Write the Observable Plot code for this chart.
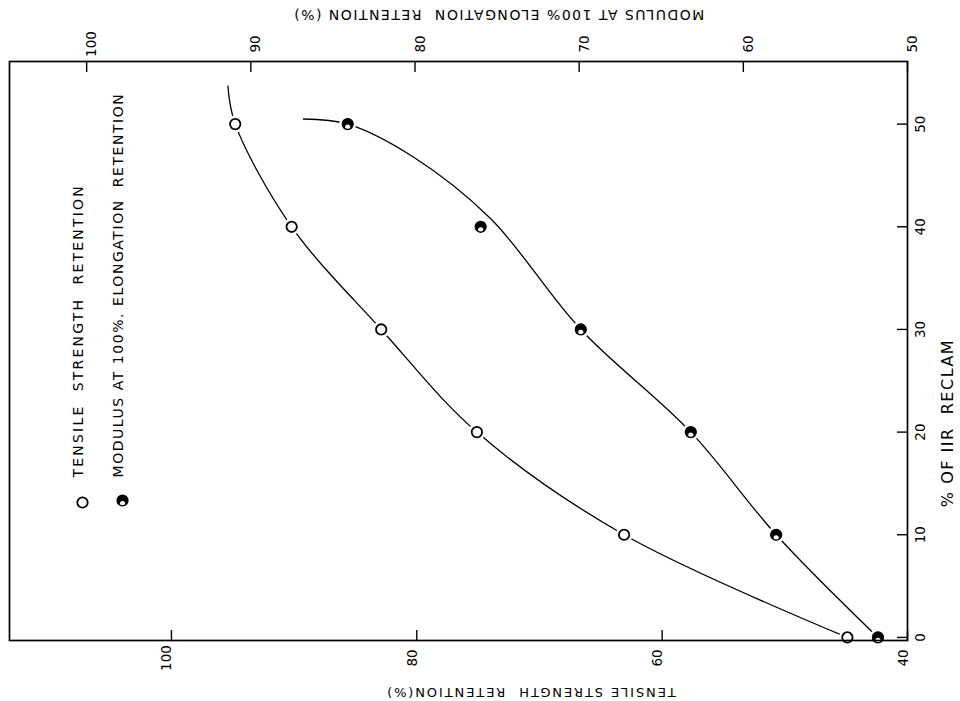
<!DOCTYPE html>
<html>
<head>
<meta charset="utf-8">
<script src="https://cdn.jsdelivr.net/npm/d3@7"></script>
<script src="https://cdn.jsdelivr.net/npm/@observablehq/plot@0.6"></script>
<style>
  html, body { margin: 0; padding: 0; background: #fff; }
  svg { display: block; }
</style>
</head>
<body>
<div id="chart"></div>
<script>
// ---- data ----
const iirLevels = [0, 10, 20, 30, 40, 50];                       // % of IIR reclaim
const tensileRetention = [44.9, 63.1, 75.1, 82.9, 90.2, 94.8];   // tensile strength retention (%)
const modulusRetention = [51.8, 58.0, 63.2, 69.9, 76.0, 84.1];   // modulus at 100% elongation retention (%)

// hand-drawn fitted curves
const tensileCurveIIR = [0, 10, 20, 30, 40, 50, 53.7];
const tensileCurveValue = [44.9, 63.1, 75.1, 82.9, 90.2, 94.8, 95.4];
const modulusCurveIIR = [0, 10, 20, 30, 40.8, 46.8, 50, 50.5];
const modulusCurveValue = [51.8, 58.0, 63.2, 69.9, 75.4, 80.1, 84.1, 86.8];

// tick labels
const tensileTicks = [40, 60, 80, 100];
const modulusTicks = [50, 60, 70, 80, 90, 100];
const iirTicks = [0, 10, 20, 30, 40, 50];

// texts
const tensileTitle = "TENSILE STRENGTH  RETENTION(%)";
const modulusTitle = "MODULUS AT 100% ELONGATION  RETENTION (%)";
const iirTitle = "% OF IIR  RECLAM";
const legendLabels = ["TENSILE  STRENGTH  RETENTION", "MODULUS AT 100%. ELONGATION  RETENTION"];

// ---- scales ----
const W = 960, H = 701;
const mL = 9, mR = 53, mT = 61, mB = 61;
const plotW = W - mL - mR, plotH = H - mT - mB;
const tensileDomain = [113.2, 40];   // reversed: 40 at right edge
const modulusDomain = [104.7, 50];   // secondary axis, same frame
const toTensile = m => 40 + (m - 50) * (tensileDomain[0] - 40) / (modulusDomain[0] - 50);
const iirDomain = [-0.3, 56.1];

const tensilePts = iirLevels.map((d, i) => ({iir: d, v: tensileRetention[i]}));
const modulusPts = iirLevels.map((d, i) => ({iir: d, v: toTensile(modulusRetention[i])}));
const tensileCurve = tensileCurveIIR.map((d, i) => ({iir: d, v: tensileCurveValue[i]}));
const modulusCurve = modulusCurveIIR.map((d, i) => ({iir: d, v: toTensile(modulusCurveValue[i])}));

const font = "DejaVu Sans, sans-serif";

const chart = Plot.plot({
  width: W, height: H,
  marginLeft: mL, marginRight: mR, marginTop: mT, marginBottom: mB,
  x: {domain: tensileDomain, axis: null},
  y: {domain: iirDomain, axis: null},
  style: {fontFamily: font, background: "white", color: "black"},
  marks: [
    // curves
    Plot.line(tensileCurve, {x: "v", y: "iir", curve: "catmull-rom", stroke: "black", strokeWidth: 1.3}),
    Plot.line(modulusCurve, {x: "v", y: "iir", curve: "catmull-rom", stroke: "black", strokeWidth: 1.3}),
    // white halos to break curves at markers
    Plot.dot(tensilePts, {x: "v", y: "iir", r: 8.5, fill: "white", stroke: "none"}),
    Plot.dot(modulusPts, {x: "v", y: "iir", r: 8.5, fill: "white", stroke: "none"}),
    // markers
    Plot.dot(tensilePts, {x: "v", y: "iir", r: 5.2, fill: "white", stroke: "black", strokeWidth: 1.8}),
    Plot.dot(modulusPts, {x: "v", y: "iir", r: 5.6, fill: "black", stroke: "none"}),
    Plot.dot(modulusPts, {x: "v", y: "iir", r: 2.6, dy: 3, fill: "white", stroke: "none"}),
    Plot.dot(modulusPts, {x: "v", y: "iir", r: 5.4, fill: "none", stroke: "black", strokeWidth: 1.4}),

    // frame
    Plot.frame({stroke: "black", strokeWidth: 1.7}),

    // bottom axis: tensile strength
    Plot.tickX(tensileTicks, {x: d => d, insetTop: plotH - 10, stroke: "black", strokeWidth: 1.4}),
    Plot.text(tensileTicks, {x: d => d, text: d => String(d), frameAnchor: "bottom", textAnchor: "middle", dy: 17.5, rotate: -90, fontSize: 13.5}),
    Plot.text([tensileTitle], {text: d => d, frameAnchor: "bottom", textAnchor: "middle", dx: 72, dy: 47, rotate: 180, fontSize: 13}),

    // top axis: modulus
    Plot.tickX(modulusTicks, {x: d => toTensile(d), insetBottom: plotH - 11, stroke: "black", strokeWidth: 1.4}),
    Plot.text(modulusTicks, {x: d => toTensile(d), text: d => String(d), frameAnchor: "top", textAnchor: "middle", dy: -17.5, rotate: -90, fontSize: 13.5}),
    Plot.text([modulusTitle], {text: d => d, frameAnchor: "top", textAnchor: "middle", dx: 40, dy: -42, rotate: 180, fontSize: 14}),

    // right axis: % of IIR reclaim
    Plot.tickY(iirTicks, {y: d => d, insetLeft: plotW - 10, stroke: "black", strokeWidth: 1.4}),
    Plot.text(iirTicks, {y: d => d, text: d => String(d), frameAnchor: "right", textAnchor: "middle", dx: 13, rotate: -90, fontSize: 13.5}),
    Plot.text([iirTitle], {text: d => d, frameAnchor: "right", textAnchor: "middle", dx: 40, dy: 72, rotate: -90, fontSize: 16}),

    // legend
    Plot.dot([legendLabels[0]], {frameAnchor: "bottom-left", dx: 73, dy: -138, r: 5.2, fill: "white", stroke: "black", strokeWidth: 1.8}),
    Plot.dot([legendLabels[1]], {frameAnchor: "bottom-left", dx: 113, dy: -140, r: 5.6, fill: "black", stroke: "none"}),
    Plot.dot([legendLabels[1]], {frameAnchor: "bottom-left", dx: 113, dy: -137, r: 2.6, fill: "white", stroke: "none"}),
    Plot.dot([legendLabels[1]], {frameAnchor: "bottom-left", dx: 113, dy: -140, r: 5.4, fill: "none", stroke: "black", strokeWidth: 1.4}),
    Plot.text([legendLabels[0]], {text: d => d, frameAnchor: "bottom-left", dx: 73, dy: -163, rotate: -90, textAnchor: "start", fontSize: 14}),
    Plot.text([legendLabels[1]], {text: d => d, frameAnchor: "bottom-left", dx: 113, dy: -163, rotate: -90, textAnchor: "start", fontSize: 14})
  ]
});

// typewriter-like letter spacing for the long labels
const spacing = new Map([
  [tensileTitle, 1.9], [modulusTitle, 1.5], [iirTitle, 1.5],
  [legendLabels[0], 2.2], [legendLabels[1], 1.55]
]);
d3.select(chart).selectAll("text").each(function () {
  const s = spacing.get(this.textContent);
  if (s != null) {
    this.style.letterSpacing = s + "px";
    this.style.whiteSpace = "pre";
  }
});

document.getElementById("chart").appendChild(chart);
</script>
</body>
</html>
